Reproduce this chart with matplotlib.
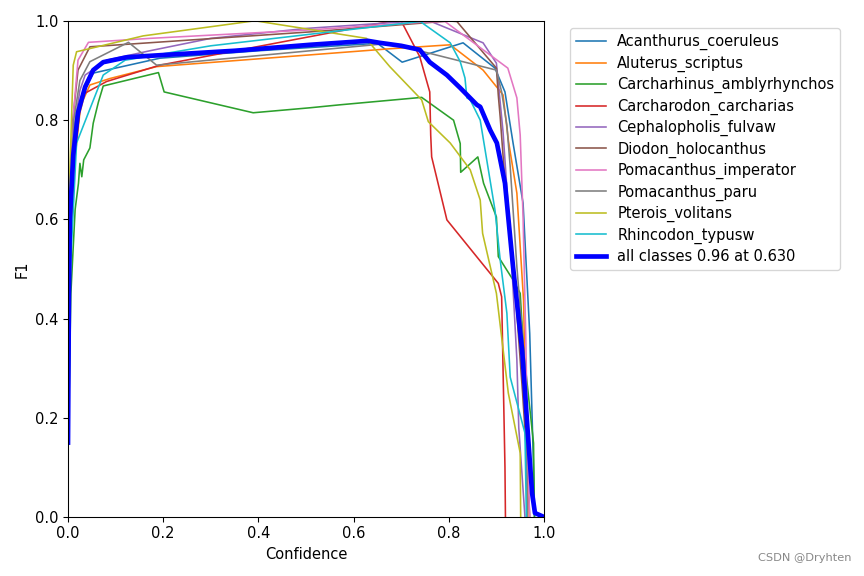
import matplotlib
matplotlib.use("Agg")
import matplotlib.pyplot as plt

plt.rcParams["font.size"] = 11

names = ["Acanthurus_coeruleus", "Aluterus_scriptus", "Carcharhinus_amblyrhynchos",
         "Carcharodon_carcharias", "Cephalopholis_fulvaw", "Diodon_holocanthus",
         "Pomacanthus_imperator", "Pomacanthus_paru", "Pterois_volitans", "Rhincodon_typusw"]

x_acanthurus = [0.0, 0.004, 0.01, 0.02, 0.035, 0.053, 0.193, 0.40, 0.65, 0.702, 0.83, 0.897, 0.918, 0.935, 0.956, 0.97, 0.977, 0.98]
y_acanthurus = [0.20, 0.55, 0.72, 0.80, 0.86, 0.895, 0.925, 0.94, 0.955, 0.917, 0.956, 0.905, 0.857, 0.754, 0.633, 0.37, 0.135, 0.0]

x_aluterus = [0.0, 0.005, 0.012, 0.025, 0.032, 0.046, 0.088, 0.186, 0.676, 0.803, 0.872, 0.914, 0.925, 0.943, 0.957, 0.962, 0.966]
y_aluterus = [0.20, 0.55, 0.70, 0.815, 0.841, 0.871, 0.884, 0.908, 0.944, 0.952, 0.901, 0.851, 0.76, 0.653, 0.437, 0.20, 0.0]

x_carcharhinus = [0.0, 0.006, 0.015, 0.022, 0.025, 0.029, 0.033, 0.046, 0.053, 0.064, 0.074, 0.19, 0.202, 0.389, 0.508, 0.571, 0.743, 0.81, 0.824, 0.825, 0.861, 0.873, 0.90, 0.904, 0.935, 0.95, 0.957, 0.978, 0.98]
y_carcharhinus = [0.12, 0.45, 0.62, 0.673, 0.713, 0.686, 0.72, 0.744, 0.794, 0.837, 0.869, 0.896, 0.857, 0.815, 0.825, 0.831, 0.846, 0.80, 0.753, 0.695, 0.726, 0.673, 0.605, 0.525, 0.478, 0.451, 0.337, 0.149, 0.0]

x_carcharodon = [0.0, 0.005, 0.012, 0.029, 0.081, 0.193, 0.676, 0.70, 0.739, 0.76, 0.762, 0.764, 0.796, 0.904, 0.911, 0.918, 0.919]
y_carcharodon = [0.15, 0.55, 0.72, 0.851, 0.878, 0.911, 0.999, 1.0, 0.928, 0.857, 0.77, 0.726, 0.599, 0.471, 0.444, 0.10, 0.0]

x_cephalopholis = [0.0, 0.004, 0.012, 0.025, 0.036, 0.081, 0.172, 0.30, 0.50, 0.70, 0.76, 0.872, 0.90, 0.914, 0.93, 0.943, 0.947, 0.96]
y_cephalopholis = [0.25, 0.60, 0.78, 0.86, 0.891, 0.921, 0.94, 0.965, 0.985, 0.998, 1.0, 0.956, 0.915, 0.776, 0.55, 0.317, 0.18, 0.0]

x_diodon = [0.0, 0.004, 0.01, 0.021, 0.046, 0.508, 0.80, 0.817, 0.90, 0.904, 0.908, 0.92, 0.94, 0.955, 0.965, 0.97]
y_diodon = [0.12, 0.60, 0.80, 0.901, 0.948, 0.978, 1.0, 0.999, 0.905, 0.85, 0.806, 0.65, 0.45, 0.25, 0.10, 0.0]

x_imperator = [0.0, 0.004, 0.012, 0.021, 0.043, 0.172, 0.508, 0.75, 0.792, 0.924, 0.943, 0.95, 0.956, 0.962, 0.966, 0.97]
y_imperator = [0.20, 0.60, 0.82, 0.921, 0.957, 0.965, 0.982, 0.998, 0.999, 0.905, 0.845, 0.77, 0.605, 0.35, 0.10, 0.0]

x_paru = [0.0, 0.004, 0.012, 0.025, 0.046, 0.127, 0.186, 0.676, 0.90, 0.911, 0.922, 0.929, 0.943, 0.96, 0.965]
y_paru = [0.20, 0.60, 0.80, 0.88, 0.918, 0.957, 0.911, 0.955, 0.901, 0.857, 0.79, 0.706, 0.505, 0.303, 0.0]

x_pterois = [0.0, 0.004, 0.011, 0.018, 0.158, 0.389, 0.396, 0.627, 0.638, 0.676, 0.743, 0.757, 0.803, 0.845, 0.866, 0.871, 0.90, 0.925, 0.95, 0.951]
y_pterois = [0.30, 0.70, 0.911, 0.938, 0.97, 1.0, 1.0, 0.965, 0.951, 0.908, 0.841, 0.797, 0.754, 0.70, 0.639, 0.572, 0.451, 0.25, 0.129, 0.0]

x_rhincodon = [0.0, 0.005, 0.018, 0.074, 0.12, 0.30, 0.676, 0.74, 0.803, 0.824, 0.834, 0.838, 0.845, 0.866, 0.897, 0.908, 0.922, 0.929, 0.96, 0.963]
y_rhincodon = [0.15, 0.50, 0.754, 0.891, 0.921, 0.95, 0.992, 0.999, 0.956, 0.918, 0.885, 0.845, 0.841, 0.80, 0.619, 0.518, 0.411, 0.282, 0.169, 0.0]

x_all = [0.0, 0.002, 0.004, 0.011, 0.021, 0.036, 0.053, 0.074, 0.124, 0.193, 0.35, 0.508, 0.630, 0.655, 0.70, 0.739, 0.76, 0.796, 0.824, 0.859, 0.866, 0.887, 0.901, 0.918, 0.935, 0.954, 0.966, 0.975, 0.981, 1.0]
y_all = [0.15, 0.45, 0.60, 0.73, 0.815, 0.867, 0.901, 0.917, 0.927, 0.931, 0.94, 0.952, 0.96, 0.956, 0.95, 0.942, 0.917, 0.891, 0.865, 0.831, 0.827, 0.78, 0.754, 0.673, 0.504, 0.337, 0.169, 0.048, 0.008, 0.0]

xs = [x_acanthurus, x_aluterus, x_carcharhinus, x_carcharodon, x_cephalopholis,
      x_diodon, x_imperator, x_paru, x_pterois, x_rhincodon]
ys = [y_acanthurus, y_aluterus, y_carcharhinus, y_carcharodon, y_cephalopholis,
      y_diodon, y_imperator, y_paru, y_pterois, y_rhincodon]

fig = plt.figure(figsize=(9, 6), dpi=96)
ax = fig.add_axes([68 / 864, 59 / 576, 476 / 864, 496 / 576])
for name, x, y in zip(names, xs, ys):
    ax.plot(x, y, linewidth=1.2, label=name)
ax.plot(x_all, y_all, linewidth=3.5, color="blue", label="all classes 0.96 at 0.630")
ax.set_xlabel("Confidence")
ax.set_ylabel("F1")
ax.set_xlim(0, 1)
ax.set_ylim(0, 1)
ax.legend(bbox_to_anchor=(1.04, 1), loc="upper left", labelspacing=0.36)
fig.text(0.985, 0.022, "CSDN @Dryhten", ha="right", va="bottom", fontsize=8.5, color="#888888")
fig.savefig("out.png", dpi=96)
